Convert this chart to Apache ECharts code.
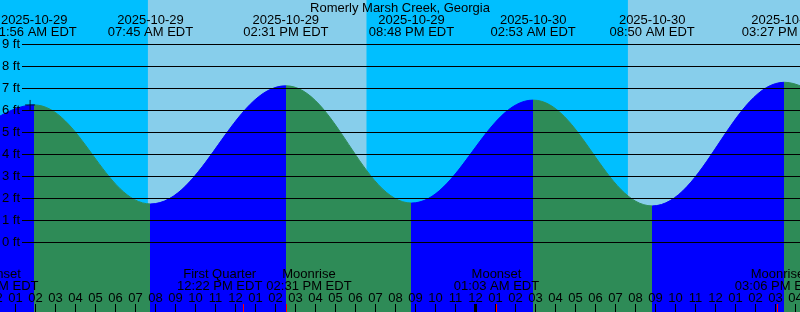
<!DOCTYPE html>
<html><head><meta charset="utf-8">
<script src="https://cdn.jsdelivr.net/npm/echarts@6/dist/echarts.min.js"></script>
<style>html,body{margin:0;padding:0;background:#00BFFF}#c{width:800px;height:312px}</style>
</head><body><div id="c"></div>
<script>
const chartTitle = 'Romerly Marsh Creek, Georgia';
// times as hours since 2025-10-29 00:00 EDT
const tideHours   = [1.933, 7.75, 14.517, 20.8, 26.883, 32.833, 39.45];
const tideHeights = [6.23, 1.73, 7.10, 1.77, 6.45, 1.64, 7.26];
const tideDates   = ['2025-10-29','2025-10-29','2025-10-29','2025-10-29','2025-10-30','2025-10-30','2025-10-30'];
const tideTimes   = ['01:56 AM EDT','07:45 AM EDT','02:31 PM EDT','08:48 PM EDT','02:53 AM EDT','08:50 AM EDT','03:27 PM EDT'];
// off-screen neighbouring extremes (previous low, next low)
const edgeHours   = [-4.6, 45.8];
const edgeHeights = [1.75, 1.70];
// sunrise, sunset, sunrise
const sunHours = [7.62, 18.56, 31.62];
const moonHours = [0.02, 12.367, 14.517, 25.05, 39.1];
const moonNames = ['Moonset','First Quarter','Moonrise','Moonset','Moonrise'];
const moonTimes = ['12:01 AM EDT','12:22 PM EDT','02:31 PM EDT','01:03 AM EDT','03:06 PM EDT'];
const hourLabels = ['12','01','02','03','04','05','06','07','08','09','10','11',
                    '12','01','02','03','04','05','06','07','08','09','10','11'];
const yTicks = [0,1,2,3,4,5,6,7,8,9];
const yTickLabels = ['0 ft','1 ft','2 ft','3 ft','4 ft','5 ft','6 ft','7 ft','8 ft','9 ft'];
const markHour = [1.73];
const markHeight = [6.23];

const NIGHT = '#00BFFF', DAY = '#87CEEB', FLOOD = '#0000FF', EBB = '#2E8B57';
const FONT = 'Liberation Sans';
const FS = 13;
const XMIN = 0, XMAX = 41;
const PX_PER_HOUR = 20;

const seriesData = [[edgeHours[0], edgeHeights[0]]]
  .concat(tideHours.map((h, i) => [h, tideHeights[i]]))
  .concat([[edgeHours[1], edgeHeights[1]]]);

const pieces = [{lt: tideHours[0], color: FLOOD}];
tideHours.forEach((h, i) => {
  const nextH = i + 1 < tideHeights.length ? tideHeights[i + 1] : edgeHeights[1];
  const p = {gte: h, color: tideHeights[i] > nextH ? EBB : FLOOD};
  if (i + 1 < tideHours.length) p.lt = tideHours[i + 1];
  pieces.push(p);
});

const bounds = [XMIN].concat(sunHours).concat([XMAX]);
const areas = [];
for (let i = 0; i < bounds.length - 1; i++) {
  areas.push([{xAxis: bounds[i], itemStyle: {color: i % 2 === 0 ? NIGHT : DAY, opacity: 1}}, {xAxis: bounds[i + 1]}]);
}

// moon-event labels: push overlapping neighbours apart (ticks stay at the event time)
const mctx = document.createElement('canvas').getContext('2d');
mctx.font = FS + 'px ' + FONT;
const moonW = moonNames.map((n, i) => Math.max(mctx.measureText(n).width, mctx.measureText(moonTimes[i]).width));
const moonLabelAt = moonHours.slice();
for (let i = 1; i < moonLabelAt.length; i++) {
  const need = ((moonW[i - 1] + moonW[i]) / 2 + 4) / PX_PER_HOUR;
  const gap = moonLabelAt[i] - moonLabelAt[i - 1];
  if (gap < need) {
    const s = (need - gap) / 2;
    moonLabelAt[i - 1] -= s;
    moonLabelAt[i] += s;
  }
}

const chart = echarts.init(document.getElementById('c'), null, {renderer: 'canvas'});
chart.setOption({
  animation: false,
  textStyle: {fontFamily: FONT, fontSize: FS, color: '#000'},
  title: {text: chartTitle, left: 'center', top: 2, padding: 0,
    textStyle: {fontFamily: FONT, fontSize: FS, fontWeight: 'normal', color: '#000'}},
  grid: [
    {left: -4.5, width: (XMAX - XMIN) * PX_PER_HOUR, top: 0, height: 330, containLabel: false, outerBoundsMode: 'none'},
    {left: 22, right: 0, top: 44, height: 198, containLabel: false, outerBoundsMode: 'none'}
  ],
  visualMap: {type: 'piecewise', show: false, dimension: 0, seriesIndex: 0, pieces: pieces},
  xAxis: [
    {gridIndex: 0, type: 'value', min: XMIN, max: XMAX, interval: 1, position: 'bottom', offset: -18, z: 10,
      axisLine: {show: false, onZero: false}, splitLine: {show: false},
      axisTick: {inside: true, length: 8, lineStyle: {color: '#000', width: 1}},
      axisLabel: {inside: true, margin: 7, color: '#000', fontSize: FS, fontFamily: FONT,
        formatter: v => hourLabels[((Math.round(v) % 24) + 24) % 24]}},
    {gridIndex: 0, type: 'value', min: XMIN, max: XMAX, interval: 24, position: 'bottom', offset: -18, z: 11,
      axisLine: {show: false, onZero: false}, splitLine: {show: false},
      axisTick: {inside: true, length: 8, lineStyle: {color: '#000', width: 3}},
      axisLabel: {show: false}},
    {gridIndex: 0, type: 'value', min: XMIN, max: XMAX, position: 'bottom', offset: -18, z: 12,
      axisLine: {show: false, onZero: false}, splitLine: {show: false},
      axisTick: {inside: true, length: 8, customValues: moonHours, lineStyle: {color: '#FF0000', width: 1}},
      axisLabel: {show: false}},
    {gridIndex: 0, type: 'value', min: XMIN, max: XMAX, position: 'bottom', offset: -18, z: 12,
      axisLine: {show: false, onZero: false}, splitLine: {show: false}, axisTick: {show: false},
      axisLabel: {inside: true, margin: 20, customValues: moonLabelAt, color: '#000', fontSize: FS, fontFamily: FONT, lineHeight: 12,
        showMinLabel: true, showMaxLabel: true,
        formatter: v => { const i = moonLabelAt.indexOf(v); return i < 0 ? '' : moonNames[i] + '\n' + moonTimes[i]; }}},
    {gridIndex: 0, type: 'value', min: XMIN, max: XMAX, position: 'top', offset: 0, z: 12,
      axisLine: {show: false, onZero: false}, splitLine: {show: false}, axisTick: {show: false},
      axisLabel: {inside: true, margin: 14, customValues: tideHours, color: '#000', fontSize: FS, fontFamily: FONT, lineHeight: 12,
        showMinLabel: true, showMaxLabel: true,
        formatter: v => { const i = tideHours.indexOf(v); return i < 0 ? '' : tideDates[i] + '\n' + tideTimes[i]; }}},
    {gridIndex: 1, type: 'value', min: 0, max: 1, show: false}
  ],
  yAxis: [
    {gridIndex: 0, type: 'value', min: -4, max: 11, show: false},
    {gridIndex: 1, type: 'value', min: 0, max: 9, interval: 1, z: 10,
      axisLine: {show: false}, axisTick: {show: false},
      splitLine: {show: true, lineStyle: {color: '#000', width: 1}},
      axisLabel: {margin: 2, color: '#000', fontSize: FS, fontFamily: FONT,
        formatter: v => { const i = yTicks.indexOf(v); return i < 0 ? '' : yTickLabels[i]; }}}
  ],
  series: [
    {type: 'line', xAxisIndex: 0, yAxisIndex: 0, data: seriesData, smooth: 0.38, smoothMonotone: 'x',
      symbol: 'none', lineStyle: {width: 1}, areaStyle: {opacity: 1, origin: 'start'}, z: 2,
      markArea: {silent: true, label: {show: false}, data: areas}},
    {type: 'scatter', xAxisIndex: 0, yAxisIndex: 0, z: 20,
      data: markHour.map((h, i) => [h, markHeight[i]]),
      symbol: 'path://M0,5L10,5M5,0L5,10', symbolSize: 10,
      itemStyle: {color: 'none', borderColor: '#000', borderWidth: 1}}
  ]
});
</script></body></html>
